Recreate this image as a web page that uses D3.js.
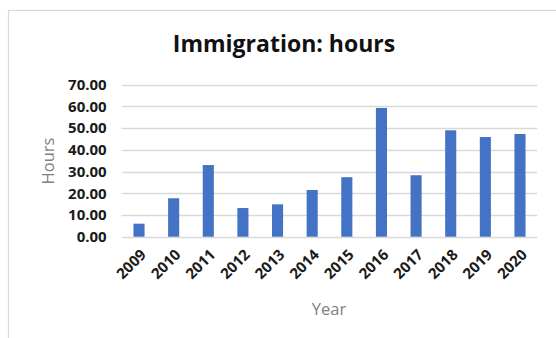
<!DOCTYPE html>
<html>
<head>
<meta charset="utf-8">
<script src="https://cdn.jsdelivr.net/npm/d3@7"></script>
<style>
  html, body { margin: 0; padding: 0; background: #fff; }
  svg { display: block; }
</style>
</head>
<body>
<svg id="chart" width="556" height="338"></svg>
<script>
// Annual hours spent on immigration work
const years = ["2009", "2010", "2011", "2012", "2013", "2014", "2015", "2016", "2017", "2018", "2019", "2020"];
const hours = [6.0, 17.7, 33.0, 13.2, 14.9, 21.5, 27.4, 59.3, 28.3, 49.0, 45.9, 47.3];
const yTicks = [0, 10, 20, 30, 40, 50, 60, 70];

const svg = d3.select("#chart");
const font = "'Open Sans', sans-serif";

// Chart area frame
svg.append("rect")
  .attr("x", 8.5).attr("y", 10.5)
  .attr("width", 560).attr("height", 340)
  .attr("fill", "#fff")
  .attr("stroke", "#d9d9d9")
  .attr("stroke-width", 1.2);

const plot = { left: 121.7, right: 537.3, top: 84.7, bottom: 236.7 };

const x = d3.scaleBand()
  .domain(years)
  .range([plot.left, plot.right])
  .paddingInner(0.68)
  .paddingOuter(0.34);

const y = d3.scaleLinear()
  .domain([0, 70])
  .range([plot.bottom, plot.top]);

// Horizontal gridlines
svg.append("g")
  .selectAll("line")
  .data(yTicks)
  .join("line")
  .attr("x1", plot.left).attr("x2", plot.right)
  .attr("y1", d => Math.round(y(d)) + 0.5)
  .attr("y2", d => Math.round(y(d)) + 0.5)
  .attr("stroke", "#d9d9d9")
  .attr("stroke-width", 1.3);

// Bars
svg.append("g")
  .selectAll("rect")
  .data(years.map((yr, i) => ({ yr, v: hours[i] })))
  .join("rect")
  .attr("x", d => x(d.yr))
  .attr("width", x.bandwidth())
  .attr("y", d => y(d.v))
  .attr("height", d => y(0) - y(d.v))
  .attr("fill", "#4472c4");

// Y axis labels
const yAxis = d3.axisLeft(y)
  .tickValues(yTicks)
  .tickFormat(d3.format(".2f"))
  .tickSize(0)
  .tickPadding(0);

const gy = svg.append("g")
  .attr("transform", `translate(${plot.left - 15},0)`)
  .call(yAxis);
gy.select(".domain").remove();
gy.selectAll("text")
  .attr("font-family", font)
  .attr("font-size", 15)
  .attr("font-weight", "bold")
  .attr("fill", "#1a1a1a");

// X axis labels, rotated
const xAxis = d3.axisBottom(x).tickSize(0).tickPadding(0);
const gx = svg.append("g")
  .attr("transform", `translate(0,${plot.bottom})`)
  .call(xAxis);
gx.select(".domain").remove();
gx.selectAll("text")
  .attr("font-family", font)
  .attr("font-size", 15)
  .attr("font-weight", "bold")
  .attr("fill", "#1a1a1a")
  .attr("text-anchor", "end")
  .attr("dy", null)
  .attr("y", 0)
  .attr("transform", "translate(8,19) rotate(-45)");

// Title
svg.append("text")
  .attr("x", 284).attr("y", 52)
  .attr("text-anchor", "middle")
  .attr("font-family", font)
  .attr("font-size", 23)
  .attr("font-weight", "bold")
  .attr("fill", "#111")
  .text("Immigration: hours");

// Axis titles
svg.append("text")
  .attr("transform", "translate(53.5,161) rotate(-90)")
  .attr("text-anchor", "middle")
  .attr("font-family", font)
  .attr("font-size", 16.5)
  .attr("fill", "#7f7f7f")
  .text("Hours");

svg.append("text")
  .attr("x", 329).attr("y", 315)
  .attr("text-anchor", "middle")
  .attr("font-family", font)
  .attr("font-size", 16.5)
  .attr("fill", "#7f7f7f")
  .text("Year");
</script>
</body>
</html>
